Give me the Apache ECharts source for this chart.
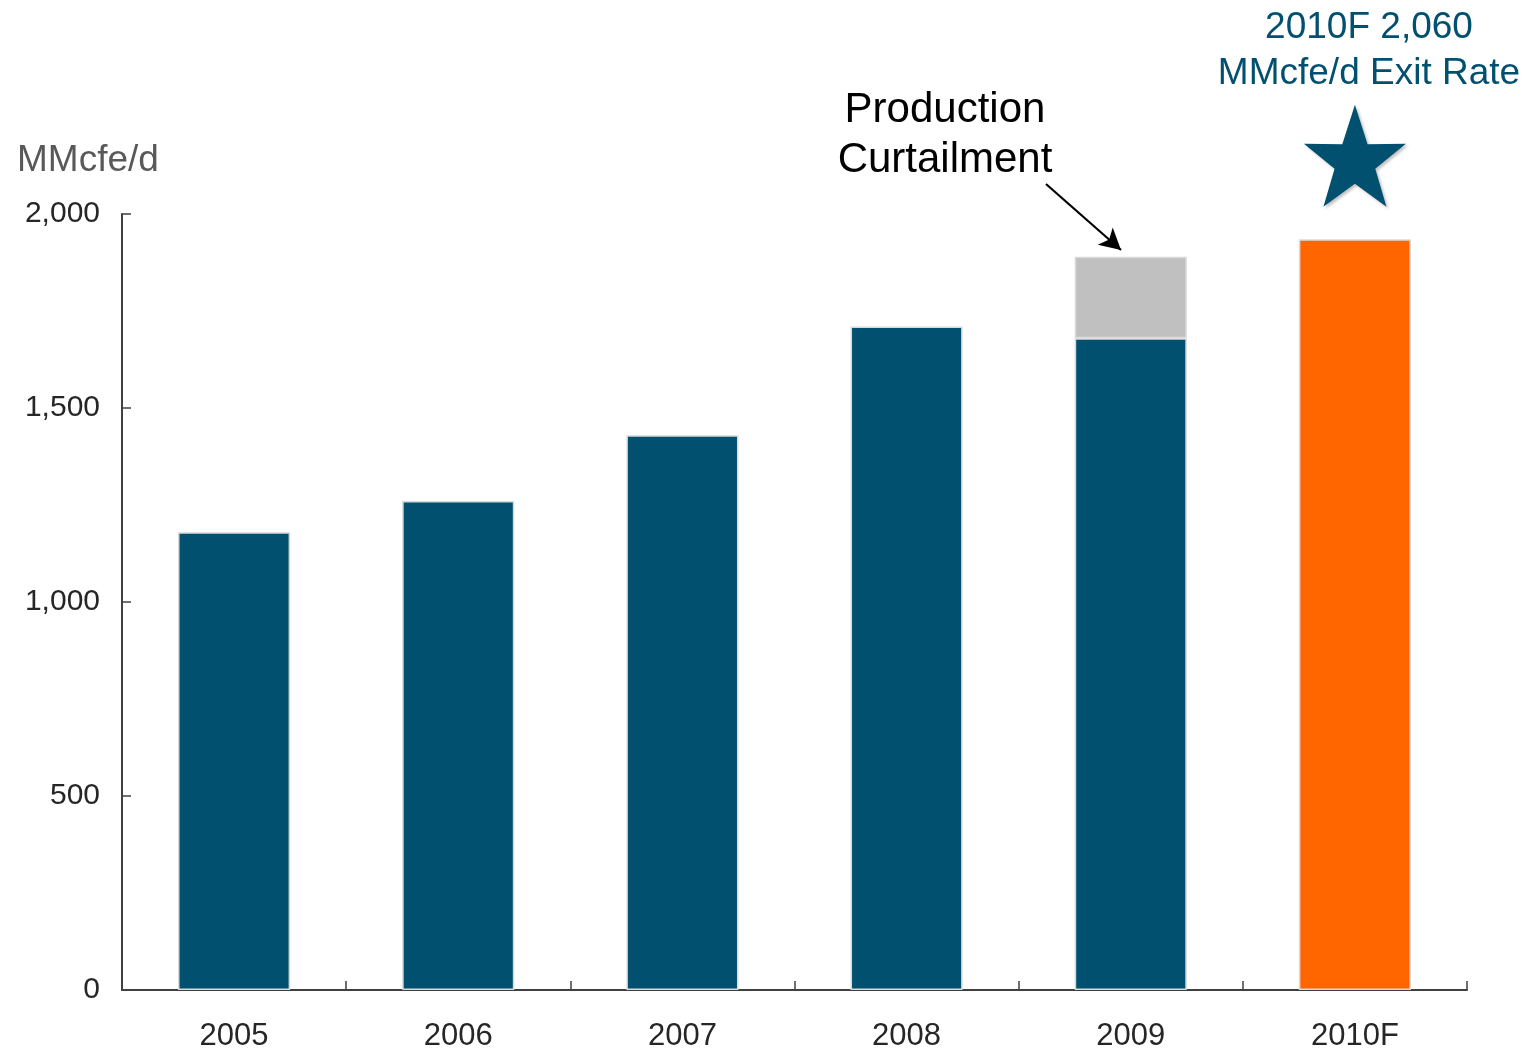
<!DOCTYPE html>
<html><head><meta charset="utf-8">
<script src="https://cdn.jsdelivr.net/npm/echarts@6/dist/echarts.min.js"></script>
<style>html,body{margin:0;padding:0;background:#fff}#c{width:1534px;height:1052px}</style>
</head><body><div id="c"></div>
<script>
const categories = ['2005', '2006', '2007', '2008', '2009', '2010F'];
const production = [1180, 1260, 1430, 1710, 1680, 1935];
const curtailment = [null, null, null, null, 210, null];
const starPoint = [['2010F', 2150]];
const yTicks = [0, 500, 1000, 1500, 2000];

const BLUE = '#02506F', ORANGE = '#FF6600', GRAY = '#C0C0C0';
const FONT = 'Liberation Sans, Arial, sans-serif';
const starPath = 'path://M50,0 L61.8,35.1 L97.6,34.5 L69,56.7 L79.4,90.5 L50,70 L20.6,90.5 L31,56.7 L2.4,34.5 L38.2,35.1 Z';

const chart = echarts.init(document.getElementById('c'));
chart.setOption({
  animation: false,
  textStyle: { fontFamily: FONT },
  grid: { left: 122, right: 67, top: 214, bottom: 61, containLabel: false },
  xAxis: {
    type: 'category', data: categories,
    axisLine: { lineStyle: { color: '#404040', width: 2 } },
    axisTick: { show: true, inside: true, length: 9, alignWithLabel: false, lineStyle: { color: '#404040', width: 1.5 } },
    axisLabel: { color: '#262626', fontSize: 31, fontFamily: FONT, margin: 31 }
  },
  yAxis: {
    type: 'value', min: 0, max: 2000, interval: 500,
    axisLine: { show: true, lineStyle: { color: '#404040', width: 2 } },
    axisTick: { show: true, inside: true, length: 9, lineStyle: { color: '#404040', width: 1.5 } },
    splitLine: { show: false },
    axisLabel: {
      color: '#262626', fontSize: 30, fontFamily: FONT, margin: 22, padding: [4, 0, 0, 0],
      formatter: v => yTicks.includes(v) ? v.toLocaleString('en-US') : ''
    }
  },
  series: [
    {
      type: 'bar', stack: 's', barWidth: '50%',
      data: production.map((v, i) => ({
        value: v,
        itemStyle: { color: categories[i] === '2010F' ? ORANGE : BLUE }
      })),
      itemStyle: { borderColor: '#D9D9D9', borderWidth: 1.5 }
    },
    {
      type: 'bar', stack: 's', barWidth: '50%',
      data: curtailment,
      itemStyle: { color: GRAY, borderColor: '#D9D9D9', borderWidth: 1.5 },
      markLine: {
        silent: true, symbol: ['none', 'arrow'], symbolSize: [17, 21],
        lineStyle: { color: '#000', width: 2.2, type: 'solid' },
        label: { show: false },
        data: [[{ x: 1046, y: 184 }, { x: 1121, y: 250 }]]
      }
    },
    {
      type: 'scatter', clip: false, symbol: starPath, symbolSize: [102, 102],
      symbolKeepAspect: false,
      itemStyle: { color: BLUE, opacity: 1, shadowColor: 'rgba(0,0,0,0.25)', shadowBlur: 3, shadowOffsetX: 2, shadowOffsetY: 2 },
      data: starPoint
    }
  ],
  graphic: [
    { type: 'text', left: 17, top: 142, style: { text: 'MMcfe/d', fill: '#595959', font: '37px ' + FONT } },
    { type: 'text', x: 945, y: 135, style: { text: 'Production\nCurtailment', fill: '#000', font: '42px ' + FONT, align: 'center', verticalAlign: 'middle', lineHeight: 50 } },
    { type: 'text', x: 1369, y: 51, style: { text: '2010F 2,060\nMMcfe/d Exit Rate', fill: BLUE, font: '37px ' + FONT, align: 'center', verticalAlign: 'middle', lineHeight: 46 } }
  ]
});
</script></body></html>
